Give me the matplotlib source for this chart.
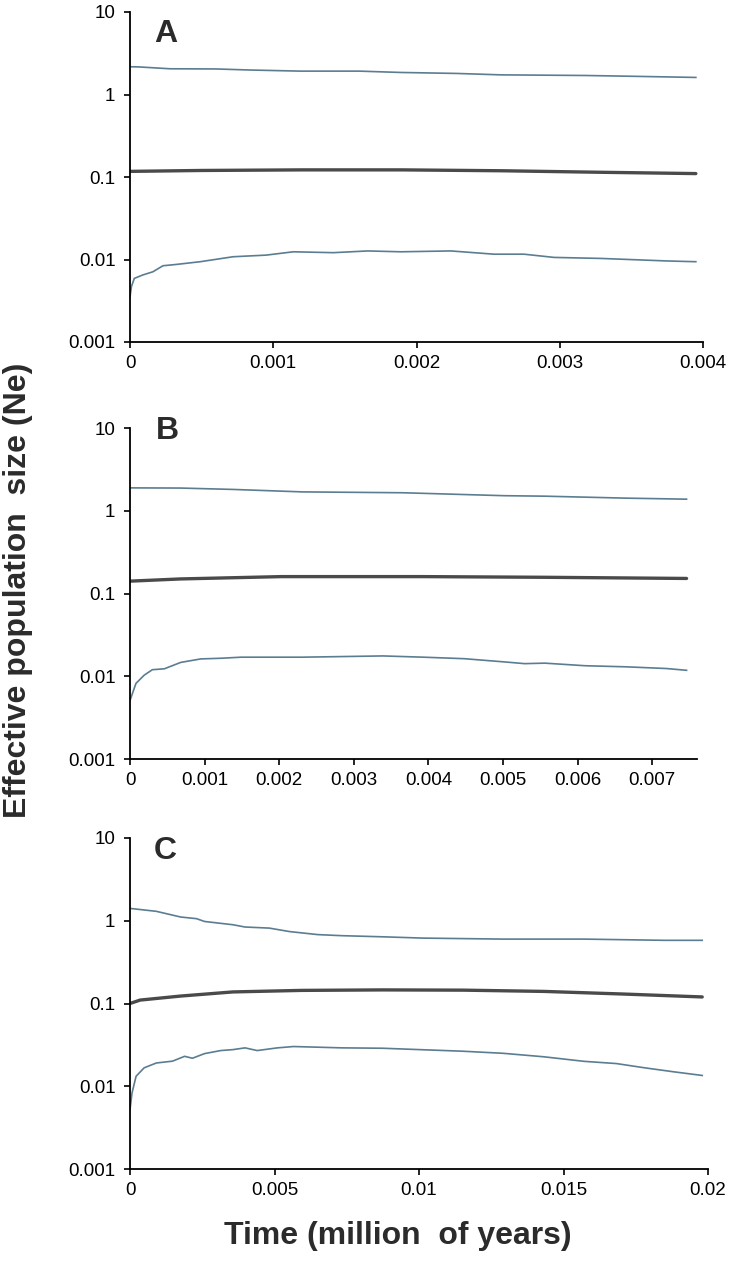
import numpy as np
import matplotlib
matplotlib.use("Agg")
import matplotlib.pyplot as plt
from matplotlib.ticker import FixedLocator, NullLocator

plt.rcParams["font.family"] = ["Liberation Sans", "DejaVu Sans"]

# --- data (time in million years, Ne) ---
# Panel A
a_up_t = [0, 0.00006, 0.00028, 0.00060, 0.00084, 0.00119, 0.00160, 0.00189, 0.00228, 0.00259, 0.00318, 0.00353, 0.00395]
a_up = [2.17, 2.16, 2.05, 2.04, 1.98, 1.92, 1.92, 1.85, 1.80, 1.73, 1.70, 1.66, 1.61]
a_med_t = [0, 0.0005, 0.0012, 0.0019, 0.0026, 0.0033, 0.00395]
a_med = [0.117, 0.120, 0.122, 0.122, 0.119, 0.114, 0.110]
a_lo_t = [0, 0.00001, 0.00003, 0.00009, 0.00016, 0.00023, 0.00032, 0.00049, 0.00072, 0.00095, 0.00114,
          0.00142, 0.00166, 0.00189, 0.00224, 0.00254, 0.00275, 0.00296, 0.00329, 0.00375, 0.00395]
a_lo = [0.0035, 0.0047, 0.0059, 0.0065, 0.0071, 0.0084, 0.0087, 0.0094, 0.0108, 0.0113, 0.0124,
        0.0121, 0.0127, 0.0124, 0.0127, 0.0116, 0.0116, 0.0106, 0.0103, 0.0096, 0.0094]

# Panel B
b_up_t = [0, 0.00068, 0.00138, 0.00231, 0.00366, 0.00448, 0.00502, 0.00556, 0.00665, 0.00746]
b_up = [1.89, 1.88, 1.81, 1.69, 1.65, 1.57, 1.52, 1.50, 1.42, 1.38]
b_med_t = [0, 0.00068, 0.00203, 0.00393, 0.00556, 0.00746]
b_med = [0.141, 0.150, 0.160, 0.160, 0.157, 0.152]
b_lo_t = [0, 0.00008, 0.00019, 0.0003, 0.00046, 0.00068, 0.00095, 0.00122, 0.00149, 0.00231, 0.00339,
          0.00393, 0.00448, 0.00502, 0.00529, 0.00556, 0.0061, 0.00665, 0.00719, 0.00746]
b_lo = [0.0051, 0.0082, 0.0103, 0.0120, 0.0123, 0.0147, 0.0162, 0.0165, 0.0170, 0.0170, 0.0176,
        0.0170, 0.0163, 0.0149, 0.0142, 0.0144, 0.0134, 0.0130, 0.0124, 0.0118]

# Panel C
c_up_t = [0, 0.00091, 0.00175, 0.0023, 0.00258, 0.00356, 0.00398, 0.00482, 0.00552, 0.0065, 0.00733,
          0.00873, 0.01013, 0.01292, 0.01571, 0.0185, 0.0198]
c_up = [1.41, 1.30, 1.11, 1.06, 0.98, 0.895, 0.84, 0.815, 0.74, 0.68, 0.66, 0.64, 0.617, 0.60, 0.60, 0.58, 0.58]
c_med_t = [0, 0.00035, 0.00175, 0.00356, 0.00594, 0.00873, 0.01152, 0.01432, 0.01711, 0.0198]
c_med = [0.100, 0.110, 0.123, 0.138, 0.144, 0.146, 0.145, 0.140, 0.130, 0.120]
c_lo_t = [0, 0.00007, 0.00021, 0.00049, 0.00091, 0.00147, 0.00189, 0.00216, 0.00258, 0.00314, 0.00356,
          0.00398, 0.0044, 0.0051, 0.00566, 0.00733, 0.00873, 0.01152, 0.01292, 0.01432, 0.01571,
          0.01683, 0.01781, 0.01878, 0.0198]
c_lo = [0.0052, 0.0083, 0.0132, 0.0167, 0.0191, 0.0201, 0.0230, 0.0218, 0.0248, 0.0270, 0.0277,
        0.0291, 0.0270, 0.0291, 0.0302, 0.0291, 0.0288, 0.0265, 0.0250, 0.0227, 0.0200,
        0.0188, 0.0167, 0.0150, 0.0135]

y_ticks = [0.001, 0.01, 0.1, 1, 10]
y_labels = ["0.001", "0.01", "0.1", "1", "10"]

panels = [
    ("A", a_up_t, a_up, a_med_t, a_med, a_lo_t, a_lo, 0.0040,
     [0, 0.001, 0.002, 0.003, 0.004], ["0", "0.001", "0.002", "0.003", "0.004"]),
    ("B", b_up_t, b_up, b_med_t, b_med, b_lo_t, b_lo, 0.0076,
     [0, 0.001, 0.002, 0.003, 0.004, 0.005, 0.006, 0.007],
     ["0", "0.001", "0.002", "0.003", "0.004", "0.005", "0.006", "0.007"]),
    ("C", c_up_t, c_up, c_med_t, c_med, c_lo_t, c_lo, 0.020,
     [0, 0.005, 0.01, 0.015, 0.02], ["0", "0.005", "0.01", "0.015", "0.02"]),
]

W, H = 734, 1268
# axes boxes in pixels: left, right, top, bottom
boxes = [(130, 703, 12, 342), (130, 697, 428, 759), (130, 708, 838, 1169)]
letter_pos = [(166, 34), (167, 431), (165, 851)]

ci_color = "#5b7d91"
med_color = "#4a4a4a"

fig = plt.figure(figsize=(W / 100, H / 100), dpi=100)

for (name, ut, uv, mt, mv, lt, lv, xmax, xt, xl), (l, r, t, b), (lx, ly) in zip(panels, boxes, letter_pos):
    ax = fig.add_axes([l / W, 1 - b / H, (r - l) / W, (b - t) / H])
    ax.plot(ut, uv, color=ci_color, lw=1.2)
    ax.plot(lt, lv, color=ci_color, lw=1.2)
    ax.plot(mt, mv, color=med_color, lw=2.4, solid_capstyle="round")
    ax.set_yscale("log")
    ax.set_ylim(0.001, 10)
    ax.set_xlim(0, xmax)
    ax.yaxis.set_major_locator(FixedLocator(y_ticks))
    ax.set_yticklabels(y_labels)
    ax.yaxis.set_minor_locator(NullLocator())
    ax.set_xticks(xt)
    ax.set_xticklabels(xl)
    for s in ["top", "right"]:
        ax.spines[s].set_visible(False)
    for s in ["left", "bottom"]:
        ax.spines[s].set_linewidth(1.3)
    ax.tick_params(axis="y", direction="out", length=4.5, width=1.2, labelsize=13.5, pad=6)
    ax.tick_params(axis="x", direction="out", length=4.5, width=1.2, labelsize=13.5, pad=5)
    fig.text(lx / W, 1 - ly / H, name, fontsize=23, fontweight="bold", color="#2b2b2b",
             ha="center", va="center")

fig.text(18 / W, 1 - 590 / H, "Effective population  size (Ne)", rotation=90,
         fontsize=23, fontweight="bold", color="#2b2b2b", ha="center", va="center")
fig.text(398 / W, 1 - 1236 / H, "Time (million  of years)",
         fontsize=23, fontweight="bold", color="#2b2b2b", ha="center", va="center")

fig.savefig("out.png", dpi=100)
